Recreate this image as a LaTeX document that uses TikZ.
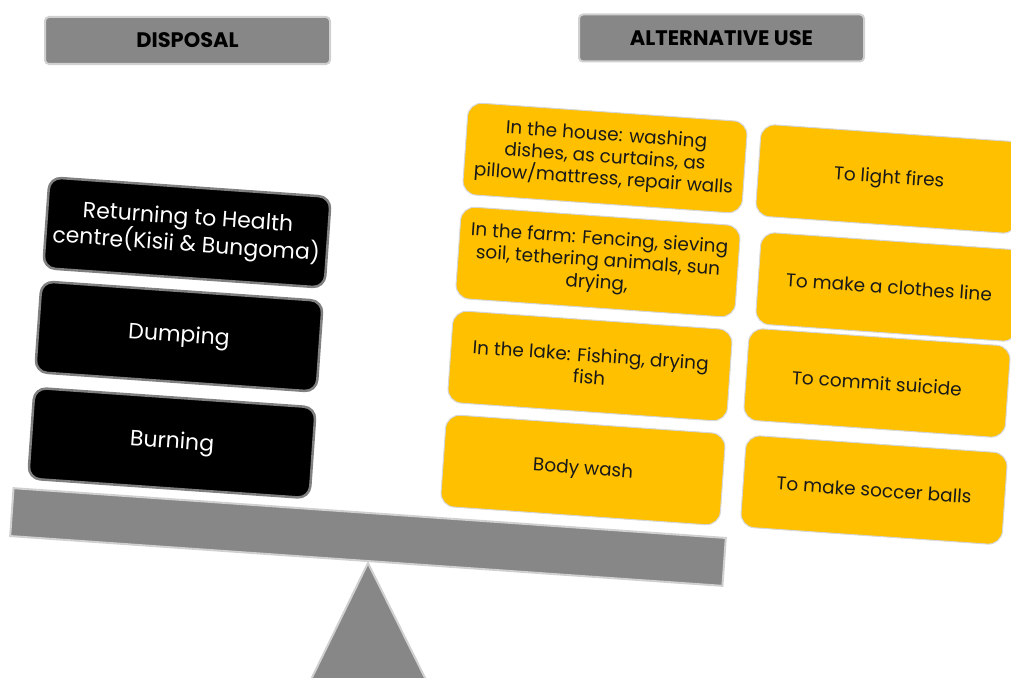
\documentclass[tikz,border=0pt]{standalone}
\usepackage{fontspec}
\setmainfont{Poppins}
\definecolor{hdrfill}{HTML}{878787}
\definecolor{hdrline}{HTML}{D0D0D0}
\definecolor{displine}{HTML}{808080}
\definecolor{useyellow}{HTML}{FFC000}
\definecolor{useline}{HTML}{D6D6D6}
\begin{document}
\begin{tikzpicture}[x=1pt,y=-1pt,
  header/.style={draw=hdrline, line width=2pt, fill=hdrfill, rounded corners=4pt,
    minimum width=285pt, minimum height=47pt, inner sep=0pt,
    font=\bfseries\fontsize{21}{24}\selectfont, text=black},
  dispbox/.style={draw=displine, line width=2.5pt, fill=black, text=white,
    rounded corners=12pt, minimum width=282pt, minimum height=91pt, inner sep=2pt,
    rotate=-4, align=center, font=\fontsize{22}{27}\selectfont},
  usebox/.style={draw=useline, line width=1pt, fill=useyellow, text=black!90,
    rounded corners=14pt, minimum height=92pt, inner sep=2pt,
    rotate=-4, align=center, font=\fontsize{18.5}{22}\selectfont},
  useleft/.style={usebox, minimum width=280pt},
  useright/.style={usebox, minimum width=262pt},
  balance/.style={draw=hdrline, line width=2pt, fill=hdrfill}
]
\useasboundingbox (0,0) rectangle (1011,677);
\clip (0,0) rectangle (1011,677);

% column headings
\node[header] (hdis) at (187.5,40.5) {DISPOSAL};
\node[header] (halt) at (721.5,38) {ALTERNATIVE USE};

% fulcrum and beam of the balance
\draw[balance] (368,563) -- (301,700) -- (436,700) -- cycle;
\node[balance, minimum width=714pt, minimum height=48pt, rotate=-4, inner sep=0pt] (beam) at (368,537) {};

% disposal pile
\node[dispbox] (d1) at (187,232.5) {Returning to Health\\centre(Kisii \& Bungoma)};
\node[dispbox] (d2) at (179,336.5) {Dumping};
\node[dispbox] (d3) at (172,443) {Burning};

% alternative uses, left column
\node[useleft] (u1) at (605,158) {In the house: washing\\dishes, as curtains, as\\pillow/mattress, repair walls};
\node[useleft] (u2) at (598,262) {In the farm: Fencing, sieving\\soil, tethering animals, sun\\drying,};
\node[useleft] (u3) at (590,366) {In the lake: Fishing, drying\\fish};
\node[useleft] (u4) at (583,470) {Body wash};

% alternative uses, right column
\node[useright] (r1) at (889,179) {To light fires};
\node[useright] (r2) at (889,287) {To make a clothes line};
\node[useright] (r3) at (877,383) {To commit suicide};
\node[useright] (r4) at (874,490) {To make soccer balls};
\end{tikzpicture}
\end{document}
